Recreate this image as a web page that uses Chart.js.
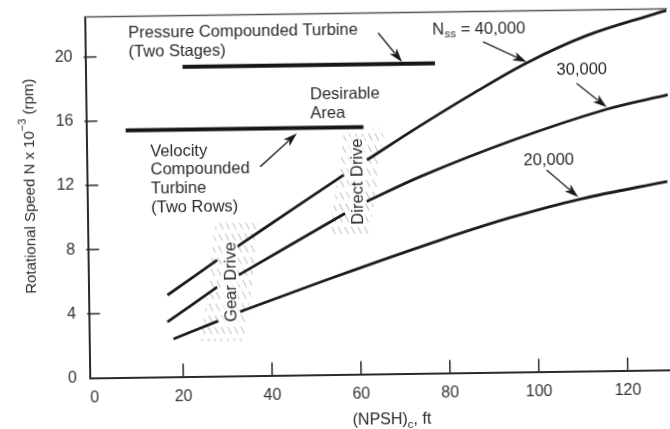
<!DOCTYPE html>
<html><head><meta charset="utf-8">
<script src="https://cdn.jsdelivr.net/npm/chart.js@4.4.1/dist/chart.umd.min.js"></script>
<style>
html,body{margin:0;padding:0;background:#fff;overflow:hidden;}
#wrap{position:absolute;left:0;top:0;width:670px;height:429px;transform:rotate(-0.8deg);transform-origin:335px 214.5px;}
</style></head><body>
<div id="wrap"><canvas id="c" width="670" height="429"></canvas></div>
<script>
// ---- data (x = (NPSH)c in ft, y = rotational speed N x 10^-3 rpm) ----
const X_TICKS = [0, 20, 40, 60, 80, 100, 120];
const Y_TICKS = [0, 4, 8, 12, 16, 20];

const NPSH_40K  = [16.7, 28.0, 30, 32.5, 44.6, 56.7, 59, 62.0, 74.0, 86.1, 98.2, 111.8, 127.2, 129.8];
const SPEED_40K = [5.10, 7.24, null, 8.05, 10.25, 12.43, null, 13.34, 15.42, 17.40, 19.25, 20.90, 22.20, 22.4];

const NPSH_30K  = [16.6, 27.9, 30, 32.8, 56.9, 59, 61.8, 73.9, 95.0, 116.1, 129.9];
const SPEED_30K = [3.42, 5.56, null, 6.29, 10.04, null, 10.75, 12.26, 14.46, 16.30, 17.15];

const NPSH_20K  = [17.9, 28.0, 30, 33.0, 54.5, 78.2, 94.0, 109.8, 129.5];
const SPEED_20K = [2.36, 3.44, null, 4.0, 6.1, 8.29, 9.62, 10.72, 11.75];

const PRESSURE_TURBINE_X = [20.8, 77.6];
const PRESSURE_TURBINE_Y = [19.3, 19.3];
const VELOCITY_TURBINE_X = [7.8, 61.3];
const VELOCITY_TURBINE_Y = [15.4, 15.4];

// ---- annotations (anchored in data units) ----
const LABELS = [
  {t:'Pressure Compounded Turbine', x:8.7, y:21.46},
  {t:'(Two Stages)', x:8.7, y:20.28},
  {t:'Desirable', x:49.4, y:17.44},
  {t:'Area', x:49.4, y:16.3},
  {t:'Velocity', x:13.3, y:14.05},
  {t:'Compounded', x:13.3, y:12.88},
  {t:'Turbine', x:13.3, y:11.71},
  {t:'(Two Rows)', x:13.3, y:10.54},
  {t:'30,000', x:110.6, y:18.76, align:'center'},
  {t:'20,000', x:102.9, y:13.18, align:'center'}
];
const NSS_LABEL = {x:77.05, y:21.39, value:'40,000'};
const ARROWS = [
  {x1:64.9, y1:21.25, x2:70.2, y2:19.42},
  {x1:37.97, y1:13.02, x2:46.32, y2:15.07},
  {x1:88.5, y1:20.6, x2:98.24, y2:19.3},
  {x1:109.4, y1:17.94, x2:116.1, y2:16.42},
  {x1:102.4, y1:12.56, x2:109.4, y2:10.85}
];
const ZONES = [
  {t:'Gear Drive', x:30.85, y:5.86, w:44, h:118, slant:8},
  {t:'Direct Drive', x:59.7, y:12.01, w:40, h:106, slant:8}
];

const FONT_FAMILY = '"Liberation Sans", Arial, Helvetica, sans-serif';
const TEXT_FONT = '16.5px ' + FONT_FAMILY;
const INK = '#2a2a2a';

function pts(xs, ys){ return xs.map((x,i)=>({x:x, y:ys[i]})); }

function drawHatch(ctx, cx, cy, w, h, slant){
  ctx.save();
  ctx.beginPath();
  ctx.moveTo(cx - w/2 + slant, cy - h/2);
  ctx.lineTo(cx + w/2 + slant, cy - h/2);
  ctx.lineTo(cx + w/2 - slant, cy + h/2);
  ctx.lineTo(cx - w/2 - slant, cy + h/2);
  ctx.closePath();
  ctx.clip();
  ctx.strokeStyle = 'rgba(90,90,90,0.42)';
  ctx.lineWidth = 1;
  ctx.setLineDash([8,5]);
  for (let t = -w - h; t <= w + h; t += 6.5){
    ctx.beginPath();
    ctx.moveTo(cx + t - 0.5*h, cy - h);
    ctx.lineTo(cx + t + 0.5*h, cy + h);
    ctx.stroke();
  }
  ctx.restore();
}

function drawArrow(ctx, x1, y1, x2, y2){
  const ang = Math.atan2(y2-y1, x2-x1);
  const L = 14, W = 4.5;
  ctx.save();
  ctx.strokeStyle = INK; ctx.fillStyle = '#1a1a1a'; ctx.lineWidth = 1.4;
  ctx.beginPath();
  ctx.moveTo(x1, y1);
  ctx.lineTo(x2 - Math.cos(ang)*L*0.8, y2 - Math.sin(ang)*L*0.8);
  ctx.stroke();
  ctx.beginPath();
  ctx.moveTo(x2, y2);
  ctx.lineTo(x2 - Math.cos(ang)*L - Math.sin(ang)*W, y2 - Math.sin(ang)*L + Math.cos(ang)*W);
  ctx.lineTo(x2 - Math.cos(ang)*L*0.75, y2 - Math.sin(ang)*L*0.75);
  ctx.lineTo(x2 - Math.cos(ang)*L + Math.sin(ang)*W, y2 - Math.sin(ang)*L - Math.cos(ang)*W);
  ctx.closePath();
  ctx.fill();
  ctx.restore();
}

const decor = {
  id: 'decor',
  beforeDatasetsDraw(chart){
    const ctx = chart.ctx, sx = chart.scales.x, sy = chart.scales.y;
    ZONES.forEach(z => drawHatch(ctx, sx.getPixelForValue(z.x), sy.getPixelForValue(z.y), z.w, z.h, z.slant));
  },
  afterDatasetsDraw(chart){
    const ctx = chart.ctx, ca = chart.chartArea, sx = chart.scales.x, sy = chart.scales.y;
    ctx.save();
    // top frame
    ctx.strokeStyle = '#555'; ctx.lineWidth = 1.3;
    ctx.beginPath(); ctx.moveTo(ca.left - 1, ca.top); ctx.lineTo(ca.right, ca.top); ctx.stroke();
    // inward tick marks
    ctx.strokeStyle = INK; ctx.lineWidth = 1.5;
    X_TICKS.forEach(v => { if (v === 0) return; const p = sx.getPixelForValue(v);
      ctx.beginPath(); ctx.moveTo(p, ca.bottom); ctx.lineTo(p, ca.bottom - 13); ctx.stroke(); });
    Y_TICKS.forEach(v => { if (v === 0) return; const p = sy.getPixelForValue(v);
      ctx.beginPath(); ctx.moveTo(ca.left - 2, p); ctx.lineTo(ca.left + 11, p); ctx.stroke(); });
    // zone labels (vertical)
    ctx.font = TEXT_FONT; ctx.fillStyle = INK; ctx.textBaseline = 'middle'; ctx.textAlign = 'center';
    ZONES.forEach(z => {
      const cx = sx.getPixelForValue(z.x), cy = sy.getPixelForValue(z.y);
      ctx.save(); ctx.translate(cx, cy); ctx.rotate(-Math.PI/2);
      const w = ctx.measureText(z.t).width;
      ctx.fillStyle = 'rgba(255,255,255,0.75)'; ctx.fillRect(-w/2 - 2, -8, w + 4, 16);
      ctx.fillStyle = INK; ctx.fillText(z.t, 0, 1);
      ctx.restore();
    });
    // arrows
    ARROWS.forEach(a => drawArrow(ctx, sx.getPixelForValue(a.x1), sy.getPixelForValue(a.y1),
                                       sx.getPixelForValue(a.x2), sy.getPixelForValue(a.y2)));
    // text labels
    ctx.font = TEXT_FONT; ctx.fillStyle = INK; ctx.textBaseline = 'middle';
    LABELS.forEach(l => { ctx.textAlign = l.align || 'left';
      ctx.fillText(l.t, sx.getPixelForValue(l.x), sy.getPixelForValue(l.y)); });
    // N_ss = 40,000
    ctx.textAlign = 'left';
    let nx = sx.getPixelForValue(NSS_LABEL.x); const ny = sy.getPixelForValue(NSS_LABEL.y);
    ctx.fillText('N', nx, ny); nx += ctx.measureText('N').width + 0.5;
    ctx.font = '11.5px ' + FONT_FAMILY; ctx.fillText('ss', nx, ny + 5); nx += ctx.measureText('ss').width;
    ctx.font = TEXT_FONT; ctx.fillText(' = ' + NSS_LABEL.value, nx, ny);
    // y axis title with superscript
    ctx.save();
    ctx.translate(ca.left - 57.3, sy.getPixelForValue(12.0));
    ctx.rotate(-Math.PI/2);
    const f1 = '15px ' + FONT_FAMILY, f2 = '11px ' + FONT_FAMILY;
    const partsY = [['Rotational Speed N x 10', f1, 0], ['\u22123', f2, -6], [' (rpm)', f1, 0]];
    let tot = 0; partsY.forEach(p => { ctx.font = p[1]; tot += ctx.measureText(p[0]).width; });
    let px = -tot/2; ctx.textAlign = 'left'; ctx.fillStyle = INK;
    partsY.forEach(p => { ctx.font = p[1]; ctx.fillText(p[0], px, p[2]); px += ctx.measureText(p[0]).width; });
    ctx.restore();
    // x axis title with subscript
    const fx1 = '16px ' + FONT_FAMILY, fx2 = '11.5px ' + FONT_FAMILY;
    const partsX = [['(NPSH)', fx1, 0], ['c', fx2, 5], [', ft', fx1, 0]];
    tot = 0; partsX.forEach(p => { ctx.font = p[1]; tot += ctx.measureText(p[0]).width; });
    px = sx.getPixelForValue(66.8) - tot/2; const ty = ca.bottom + 46;
    partsX.forEach(p => { ctx.font = p[1]; ctx.fillText(p[0], px, ty + p[2]); px += ctx.measureText(p[0]).width; });
    ctx.restore();
  }
};

const curveStyle = {showLine:true, pointRadius:0, borderColor:'#1c1c1c', borderWidth:2.8,
  tension:0.35, spanGaps:false, fill:false};

new Chart(document.getElementById('c'), {
  type: 'scatter',
  data: { datasets: [
    Object.assign({label:'Nss = 40,000', data: pts(NPSH_40K, SPEED_40K)}, curveStyle),
    Object.assign({label:'Nss = 30,000', data: pts(NPSH_30K, SPEED_30K)}, curveStyle),
    Object.assign({label:'Nss = 20,000', data: pts(NPSH_20K, SPEED_20K)}, curveStyle),
    {label:'Pressure Compounded Turbine (Two Stages)', data: pts(PRESSURE_TURBINE_X, PRESSURE_TURBINE_Y),
     showLine:true, pointRadius:0, borderColor:'#161616', borderWidth:4, borderCapStyle:'butt'},
    {label:'Velocity Compounded Turbine (Two Rows)', data: pts(VELOCITY_TURBINE_X, VELOCITY_TURBINE_Y),
     showLine:true, pointRadius:0, borderColor:'#161616', borderWidth:4, borderCapStyle:'butt'}
  ]},
  options: {
    responsive:false, animation:false, devicePixelRatio:1,
    layout:{padding:{top:13.5, right:0, left:0, bottom:0}},
    plugins:{legend:{display:false}, tooltip:{enabled:false}},
    scales:{
      x:{type:'linear', min:-1, max:130,
         grid:{display:false, drawTicks:false},
         border:{display:true, color:'#2a2a2a', width:2},
         ticks:{font:{family:FONT_FAMILY, size:16}, color:'#333', padding:10, maxRotation:0, autoSkip:false},
         afterBuildTicks: s => { s.ticks = X_TICKS.map(v => ({value:v})); },
         afterFit: s => { s.height = 54.4; s.paddingLeft = 0; s.paddingRight = 0; }},
      y:{type:'linear', min:0, max:22.5,
         grid:{display:false, drawTicks:false},
         border:{display:true, color:'#2a2a2a', width:2},
         ticks:{font:{family:FONT_FAMILY, size:16}, color:'#333', padding:13},
         afterBuildTicks: s => { s.ticks = Y_TICKS.map(v => ({value:v})); },
         afterFit: s => { s.width = 87.7; s.paddingTop = 0; s.paddingBottom = 0; }}
    }
  },
  plugins:[decor]
});
</script>
</body></html>
